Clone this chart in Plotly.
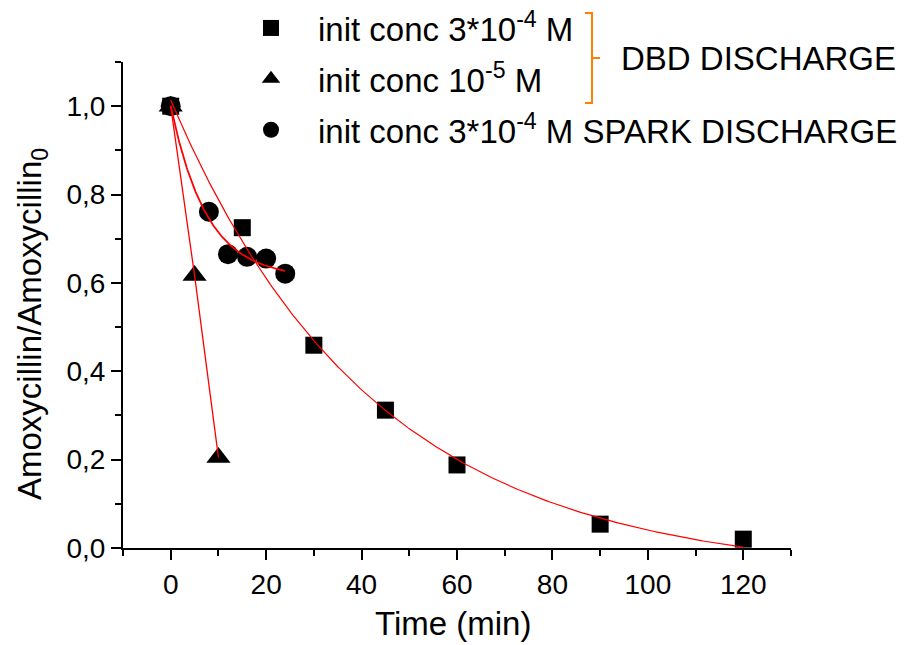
import numpy as np
import plotly.graph_objects as go

# Relative amoxycillin concentration vs treatment time
t_dbd_high = [0, 15, 30, 45, 60, 90, 120]
c_dbd_high = [1.0, 0.725, 0.459, 0.312, 0.188, 0.054, 0.02]

t_dbd_low = [0, 5, 10]
c_dbd_low = [1.0, 0.617, 0.205]

t_spark = [0, 8, 12, 16, 20, 24]
c_spark = [1.0, 0.761, 0.665, 0.659, 0.655, 0.621]

x_ticks = [0, 20, 40, 60, 80, 100, 120]
y_ticks = [0.0, 0.2, 0.4, 0.6, 0.8, 1.0]

FONT = "Liberation Sans, Arial, sans-serif"
RED = "#FF0000"
ORANGE = "#FF7F00"


def exp_decay_fit(t, y):
    """Least-squares fit of y = y0 + A*exp(-k t); returns a callable."""
    t = np.asarray(t, float)
    y = np.asarray(y, float)
    best = None
    for k in np.linspace(0.001, 1.0, 4000):
        X = np.column_stack([np.exp(-k * t), np.ones_like(t)])
        coef = np.linalg.lstsq(X, y, rcond=None)[0]
        sse = float(((X @ coef - y) ** 2).sum())
        if best is None or sse < best[0]:
            best = (sse, k, coef)
    _, k, (a, y0) = best
    return lambda tt: y0 + a * np.exp(-k * np.asarray(tt, float))


fit_high = exp_decay_fit(t_dbd_high, c_dbd_high)
fit_spark = exp_decay_fit(t_spark, c_spark)
tt_high = np.linspace(0, max(t_dbd_high), 300)
tt_spark = np.linspace(0, max(t_spark), 200)

fig = go.Figure()

fig.add_trace(go.Scatter(
    x=t_dbd_high, y=c_dbd_high, mode="markers",
    name="init conc 3*10<sup>-4</sup> M", legendgroup="a",
    marker=dict(symbol="square", size=17, color="black", line=dict(width=0)),
))
fig.add_trace(go.Scatter(
    x=t_dbd_low, y=c_dbd_low, mode="markers",
    name="init conc 10<sup>-5</sup> M", legendgroup="b",
    marker=dict(symbol="triangle-up", size=21, color="black", line=dict(width=0)),
))
fig.add_trace(go.Scatter(
    x=t_spark, y=c_spark, mode="markers",
    name="init conc 3*10<sup>-4</sup> M SPARK DISCHARGE", legendgroup="c",
    marker=dict(symbol="circle", size=20, color="black", line=dict(width=0)),
))

# fitted decay curves drawn over the symbols
fig.add_trace(go.Scatter(x=tt_high, y=fit_high(tt_high), mode="lines",
                         line=dict(color=RED, width=1.2), showlegend=False,
                         hoverinfo="skip"))
fig.add_trace(go.Scatter(x=t_dbd_low, y=c_dbd_low, mode="lines",
                         line=dict(color=RED, width=1.3), showlegend=False,
                         hoverinfo="skip"))
fig.add_trace(go.Scatter(x=tt_spark, y=fit_spark(tt_spark), mode="lines",
                         line=dict(color=RED, width=1.8), showlegend=False,
                         hoverinfo="skip"))

axis_common = dict(
    showline=True, linecolor="black", linewidth=2,
    showgrid=False, zeroline=False, mirror=False,
    ticks="outside", ticklen=10, tickwidth=2, tickcolor="black",
    tickfont=dict(family=FONT, size=28, color="black"),
    automargin=False,
)

fig.update_xaxes(
    range=[-10, 130], tickvals=x_ticks,
    minor=dict(ticks="outside", ticklen=6, tickwidth=2, tickcolor="black",
               dtick=10, tick0=0),
    **axis_common,
)
fig.update_yaxes(
    range=[0, 1.1], tickvals=y_ticks, tickformat=".1f",
    minor=dict(ticks="outside", ticklen=6, tickwidth=2, tickcolor="black",
               dtick=0.1, tick0=0),
    **axis_common,
)

L, R, T, B = 123, 131, 62, 97
W, H = 922, 645
pw, ph = W - L - R, H - T - B


def px(xp):
    return (xp - L) / pw


def py(yp):
    return (H - B - yp) / ph


TXT = 33
annotations = [
    dict(text="Time (min)", x=px(453), y=py(623), xref="paper", yref="paper",
         xanchor="center", yanchor="middle", showarrow=False,
         font=dict(family=FONT, size=TXT, color="black")),
    dict(text="Amoxycillin/Amoxycillin<sub>0</sub>", x=px(32), y=py(324),
         xref="paper", yref="paper", textangle=-90,
         xanchor="center", yanchor="middle", showarrow=False,
         font=dict(family=FONT, size=TXT, color="black")),
    dict(text="DBD DISCHARGE", x=px(619), y=py(58), xref="paper", yref="paper",
         xanchor="left", yanchor="middle", showarrow=False,
         font=dict(family=FONT, size=TXT, color="black")),
]

# orange bracket grouping the two DBD entries
bx, btop, bbot, bmid = 592, 13, 103, 58
shapes = [
    dict(type="path", xref="paper", yref="paper",
         path=(f"M {px(585)},{py(btop)} L {px(bx)},{py(btop)} "
               f"L {px(bx)},{py(bbot)} L {px(585)},{py(bbot)}"),
         line=dict(color=ORANGE, width=2)),
    dict(type="line", xref="paper", yref="paper",
         x0=px(bx), x1=px(600), y0=py(bmid), y1=py(bmid),
         line=dict(color=ORANGE, width=2)),
]

fig.update_layout(
    width=W, height=H,
    margin=dict(l=L, r=R, t=T, b=B, autoexpand=False),
    paper_bgcolor="white", plot_bgcolor="white",
    separators=",.",
    font=dict(family=FONT, color="black"),
    showlegend=True,
    legend=dict(
        x=px(224), y=py(0), xanchor="left", yanchor="top",
        bgcolor="rgba(0,0,0,0)", borderwidth=0,
        font=dict(family=FONT, size=TXT, color="black"),
        itemwidth=84, tracegroupgap=5,
    ),
    annotations=annotations,
    shapes=shapes,
)

fig.write_html("out.html")
